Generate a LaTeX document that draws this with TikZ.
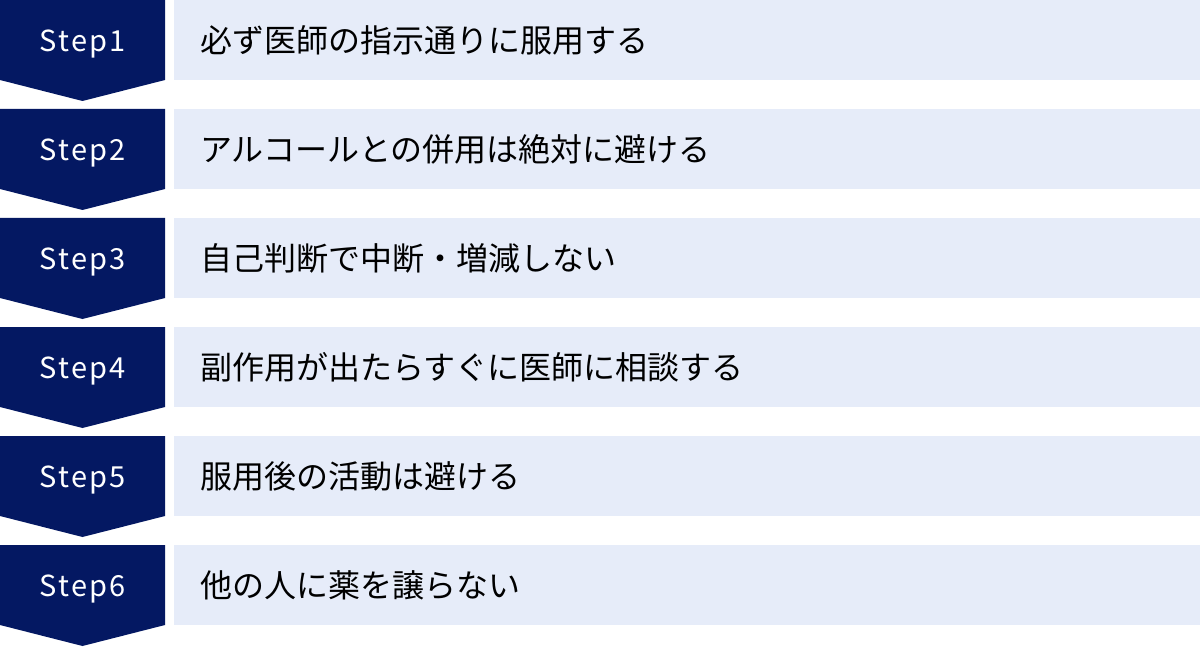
\documentclass[tikz,border=0pt]{standalone}
\usepackage{fontspec}
\setmainfont{Noto Sans CJK JP}
\usetikzlibrary{positioning,calc}
\definecolor{navy}{HTML}{041862}
\definecolor{pale}{HTML}{E6ECF9}
\tikzset{
	step box/.style={
		text=white, anchor=north west,
		minimum width=165pt, minimum height=80pt, inner sep=0pt, text depth=0pt,
		font=\fontsize{29}{32}\selectfont\addfontfeature{LetterSpace=8}
	},
	item box/.style={
		fill=pale, text=black, anchor=north west,
		text width=974pt, align=left, inner xsep=26pt, inner ysep=0pt,
		minimum height=80pt,
		font=\fontsize{32}{36}\selectfont
	}
}

\begin{document}
\begin{tikzpicture}[x=1pt, y=1pt]
	\useasboundingbox (0,0) rectangle (1200,-647);
	\foreach \i/\j in {1/必ず医師の指示通りに服用する,
		2/アルコールとの併用は絶対に避ける,
		3/自己判断で中断・増減しない,
		4/副作用が出たらすぐに医師に相談する,
		5/服用後の活動は避ける,
		6/他の人に薬を譲らない} {
		\fill[navy] (0,{-109*(\i-1)}) -- ++(165,0) -- ++(0,-80) -- ++(-82.5,-21) -- ++(-82.5,21) -- cycle;
		\node[step box] (S\i) at (0,{-109*(\i-1)}) {Step\i};
		\node[item box] (T\i) at (174,{-109*(\i-1)}) {\j};
	}
\end{tikzpicture}
\end{document}
